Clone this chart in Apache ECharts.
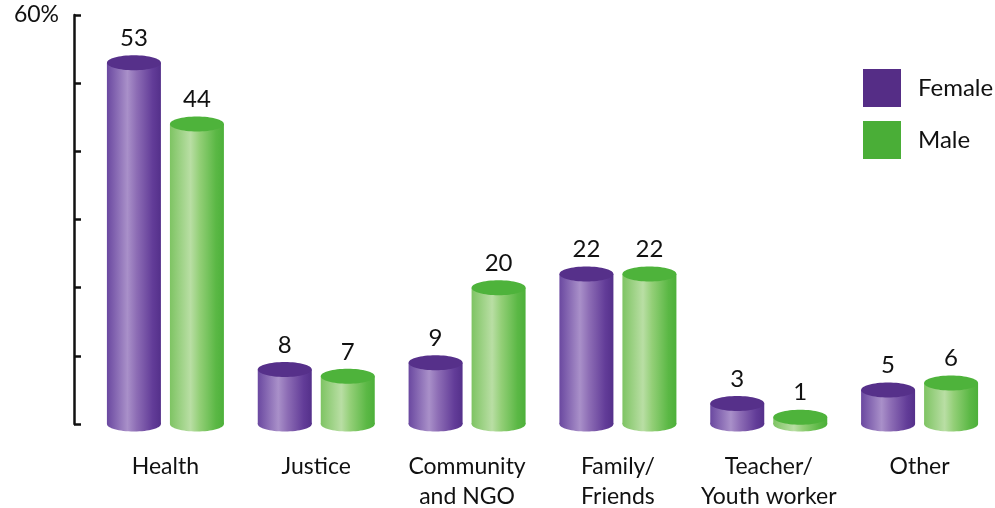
<!DOCTYPE html>
<html>
<head>
<meta charset="utf-8">
<script src="https://cdn.jsdelivr.net/npm/echarts@6/dist/echarts.min.js"></script>
<style>
  html, body { margin: 0; padding: 0; background: #fff; }
  #chart { width: 995px; height: 508px; }
</style>
</head>
<body>
<div id="chart"></div>
<script>
const categories = ['Health', 'Justice', 'Community\nand NGO', 'Family/\nFriends', 'Teacher/\nYouth worker', 'Other']
const female = [53, 8, 9, 22, 3, 5]
const male = [44, 7, 20, 22, 1, 6]
const yTicks = [0, 10, 20, 30, 40, 50, 60]

const FONT = 'Lato, "Open Sans", sans-serif'
const BAR_W = 54
const ELL_H = 15
const HALF_STEP = 31.5

const purple = {
  top: '#56308a',
  stops: [
    { offset: 0, color: '#6a48a0' },
    { offset: 0.38, color: '#a990c9' },
    { offset: 0.55, color: '#8d6db5' },
    { offset: 0.85, color: '#623c98' },
    { offset: 1, color: '#54308a' }
  ]
}
const green = {
  top: '#4eb33b',
  stops: [
    { offset: 0, color: '#7ec463' },
    { offset: 0.38, color: '#b9dea4' },
    { offset: 0.55, color: '#93cf77' },
    { offset: 0.85, color: '#5bb845' },
    { offset: 1, color: '#4db03a' }
  ]
}

const cylinder = (offset, pal) => (params, api) => {
  const base = api.coord([api.value(0), 0])
  const top = api.coord([api.value(0), api.value(1)])
  const cx = base[0] + offset
  const grad = () => new echarts.graphic.LinearGradient(0, 0, 1, 0, pal.stops)
  return {
    type: 'group',
    children: [
      {
        type: 'ellipse',
        shape: { cx: cx, cy: base[1], rx: BAR_W / 2, ry: ELL_H / 2 },
        style: { fill: grad() }
      },
      {
        type: 'rect',
        shape: { x: cx - BAR_W / 2, y: top[1], width: BAR_W, height: base[1] - top[1] },
        style: { fill: grad() }
      },
      {
        type: 'ellipse',
        shape: { cx: cx, cy: top[1], rx: BAR_W / 2, ry: ELL_H / 2 },
        style: { fill: pal.top }
      },
      {
        type: 'text',
        style: {
          text: String(api.value(1)),
          x: cx,
          y: top[1] - ELL_H / 2 - 17,
          align: 'center',
          verticalAlign: 'middle',
          fontSize: 24,
          fontFamily: FONT,
          fill: '#111'
        }
      }
    ]
  }
}

const chart = echarts.init(document.getElementById('chart'))

chart.setOption({
  animation: false,
  grid: { left: 90, right: 0, top: 15, bottom: 84, containLabel: false, outerBoundsMode: 'none' },
  legend: {
    orient: 'vertical',
    left: 863,
    top: 69,
    padding: 0,
    itemWidth: 38,
    itemHeight: 38,
    itemGap: 14,
    icon: 'rect',
    textStyle: { fontSize: 24, fontFamily: FONT, color: '#111', padding: [0, 0, 0, 12] },
    data: [
      { name: 'Female', itemStyle: { color: '#552d86' } },
      { name: 'Male', itemStyle: { color: '#4aae37' } }
    ]
  },
  xAxis: {
    type: 'category',
    data: categories,
    axisLine: { show: false },
    axisTick: { show: false },
    axisLabel: {
      margin: 28,
      fontSize: 23,
      lineHeight: 30,
      fontFamily: FONT,
      color: '#111',
      interval: 0
    }
  },
  yAxis: {
    type: 'value',
    min: yTicks[0],
    max: yTicks[yTicks.length - 1],
    interval: 10,
    offset: 16,
    axisLine: { show: true, lineStyle: { color: '#111', width: 2.5 } },
    axisTick: { show: true, inside: true, length: 7, lineStyle: { color: '#111', width: 2.5 } },
    splitLine: { show: false },
    axisLabel: {
      margin: 15,
      fontSize: 23,
      fontFamily: FONT,
      color: '#111',
      formatter: v => (v === 60 ? '60%' : '')
    }
  },
  series: [
    {
      name: 'Female',
      type: 'custom',
      renderItem: cylinder(-HALF_STEP, purple),
      itemStyle: { color: '#552d86' },
      encode: { x: 0, y: 1 },
      data: female.map((v, i) => [i, v]),
      z: 2
    },
    {
      name: 'Male',
      type: 'custom',
      renderItem: cylinder(HALF_STEP, green),
      itemStyle: { color: '#4aae37' },
      encode: { x: 0, y: 1 },
      data: male.map((v, i) => [i, v]),
      z: 2
    }
  ]
})

window.addEventListener('resize', () => chart.resize())
</script>
</body>
</html>
